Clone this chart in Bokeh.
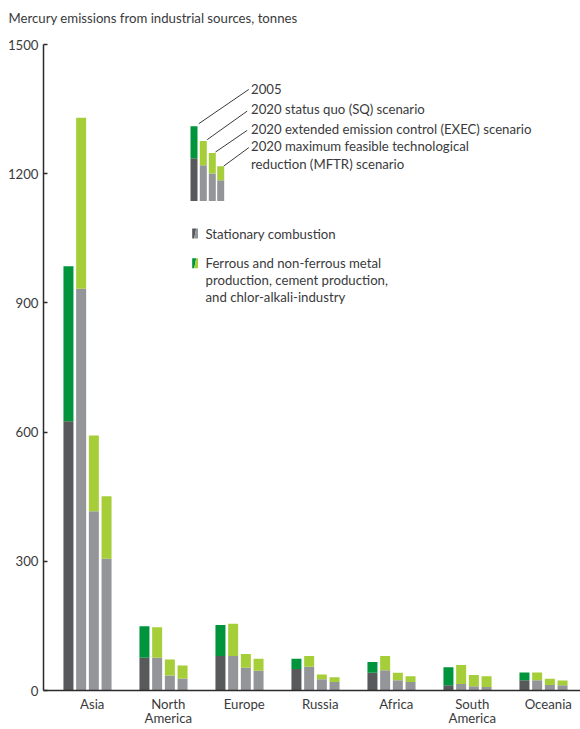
from bokeh.plotting import figure
from bokeh.models import ColumnDataSource, FixedTicker, Range1d
from bokeh.core.properties import value
from bokeh.embed import file_html
from bokeh.resources import INLINE

# ---------------- data (tonnes) ----------------
regions = ["Asia", "North\nAmerica", "Europe", "Russia", "Africa", "South\nAmerica", "Oceania"]
scenarios = ["2005", "2020 SQ", "2020 EXEC", "2020 MFTR"]

stationary_2005 = [625, 76, 80, 50, 41, 12, 24]
industry_2005 = [360, 73, 72, 24, 25, 42, 18]

stationary_sq = [933, 76, 80, 55, 47, 15, 24]
industry_sq = [397, 71, 75, 25, 33, 44, 18]

stationary_exec = [416, 35, 53, 26, 24, 10, 13]
industry_exec = [176, 37, 32, 11, 17, 26, 14]

stationary_mftr = [306, 28, 46, 20, 20, 8, 12]
industry_mftr = [145, 30, 28, 11, 13, 25, 11]

y_ticks = [0, 300, 600, 900, 1200, 1500]

title_text = "Mercury emissions from industrial sources, tonnes"
scenario_labels = ["2005", "2020 status quo (SQ) scenario",
                   "2020 extended emission control (EXEC) scenario",
                   "2020 maximum feasible technological", "reduction (MFTR) scenario"]
legend_labels = ["Stationary combustion", "Ferrous and non-ferrous metal",
                 "production, cement production,", "and chlor-alkali-industry"]

# ---------------- styling / layout ----------------
FONT = "Lato"
FS = "13.2px"
TXT = "#3a3a3c"
AXIS = "#2b2b2b"
DARK_GREY = "#58595b"
LIGHT_GREY = "#939598"
DARK_GREEN = "#00953d"
LIGHT_GREEN = "#a6ce39"

W, H = 580, 729
FRAME_L, FRAME_R, FRAME_T, FRAME_B = 43, 580, 44, 691
GROUP0, GROUP_STEP = 87.0, 76.0      # px of first group centre, group spacing
Y_MAX = 1500
PX_PER_T = (FRAME_B - FRAME_T) / Y_MAX
x_start = (FRAME_L - GROUP0) / GROUP_STEP
x_end = (FRAME_R - GROUP0) / GROUP_STEP

def px_x(px):   # pixel -> data x (decorative legend layout only)
    return (px - GROUP0) / GROUP_STEP

def px_y(py):
    return (FRAME_B - py) / PX_PER_T

BAR_W = 10.0 / GROUP_STEP
PITCH = 12.7 / GROUP_STEP
offsets = [-1.5 * PITCH, -0.5 * PITCH, 0.5 * PITCH, 1.5 * PITCH]

p = figure(width=W, height=H, x_range=Range1d(x_start, x_end), y_range=Range1d(0, Y_MAX),
           output_backend="svg", toolbar_location=None,
           min_border_left=FRAME_L, min_border_right=W - FRAME_R, min_border_top=FRAME_T,
           min_border_bottom=H - FRAME_B)
p.outline_line_color = None
p.grid.visible = False
p.background_fill_color = "white"
p.border_fill_color = "white"

# title (a trailing empty line lifts it to the top of the border area)
p.title.text = title_text + "\n"
p.title.align = "left"
p.title.vertical_align = "top"
p.title.offset = 8 - FRAME_L
p.title.standoff = 1
p.title.text_font = FONT
p.title.text_font_size = FS
p.title.text_font_style = "normal"
p.title.text_color = TXT

stat_sets = [stationary_2005, stationary_sq, stationary_exec, stationary_mftr]
ind_sets = [industry_2005, industry_sq, industry_exec, industry_mftr]
stat_cols = [DARK_GREY, LIGHT_GREY, LIGHT_GREY, LIGHT_GREY]
ind_cols = [DARK_GREEN, LIGHT_GREEN, LIGHT_GREEN, LIGHT_GREEN]

for k in range(4):
    xs = [i + offsets[k] for i in range(len(regions))]
    st = stat_sets[k]
    ind = ind_sets[k]
    src = ColumnDataSource(dict(x=xs, s=st, t=[a + b for a, b in zip(st, ind)],
                                z=[0] * len(st)))
    p.vbar(x="x", width=BAR_W, bottom="z", top="s", source=src,
           fill_color=stat_cols[k], line_color=None)
    p.vbar(x="x", width=BAR_W, bottom="s", top="t", source=src,
           fill_color=ind_cols[k], line_color=None)

# y axis
p.yaxis.ticker = FixedTicker(ticks=y_ticks)
p.yaxis.major_tick_in = 4
p.yaxis.major_tick_out = 0
p.yaxis.minor_tick_line_color = None
p.yaxis.axis_line_width = 1.5
p.yaxis.axis_line_color = AXIS
p.yaxis.major_tick_line_color = AXIS
p.yaxis.major_tick_line_width = 1.5
p.yaxis.major_label_text_font = FONT
p.yaxis.major_label_text_font_size = FS
p.yaxis.major_label_text_color = TXT
p.yaxis.major_label_standoff = 5

# x axis with region names
label_pos = [i + 0.0625 for i in range(len(regions))]
p.xaxis.ticker = FixedTicker(ticks=label_pos)
p.xaxis.major_label_overrides = {pos: name for pos, name in zip(label_pos, regions)}
p.xaxis.major_tick_line_color = None
p.xaxis.minor_tick_line_color = None
p.xaxis.major_tick_in = 0
p.xaxis.major_tick_out = 0
p.xaxis.major_label_standoff = 5
p.xaxis.major_label_text_font = FONT
p.xaxis.major_label_text_font_size = FS
p.xaxis.major_label_text_color = TXT
p.xaxis.major_label_text_line_height = 0.93
p.xaxis.axis_line_width = 1.5
p.xaxis.axis_line_color = AXIS

# ---------------- legend inset ----------------
mini_left = [190, 199.3, 208.3, 216.7]
mini_w = 7.0
mini_top = [126, 140.7, 152.7, 166]
mini_stat = [158, 165, 173.3, 180]
mini_bottom = 200.7
mx = [px_x(l + mini_w / 2) for l in mini_left]
p.vbar(x=mx, width=mini_w / GROUP_STEP, bottom=[px_y(mini_bottom)] * 4,
       top=[px_y(v) for v in mini_stat], fill_color=stat_cols, line_color=None)
p.vbar(x=mx, width=mini_w / GROUP_STEP, bottom=[px_y(v) for v in mini_stat],
       top=[px_y(v) for v in mini_top], fill_color=ind_cols, line_color=None)

leader_from = [(198.3, 123.3), (206.7, 139.3), (215, 151.7), (223.3, 165.7)]
leader_to = [(248.3, 89), (246.7, 110.7), (246.7, 130), (248.3, 147.3)]
p.segment(x0=[px_x(a[0]) for a in leader_from], y0=[px_y(a[1]) for a in leader_from],
          x1=[px_x(b[0]) for b in leader_to], y1=[px_y(b[1]) for b in leader_to],
          line_color="#3a3a3c", line_width=1)

scen_y = [88.3, 108.3, 128.3, 146, 163.3]
p.text(x=[px_x(250.5)] * 5, y=[px_y(v) for v in scen_y], text=scenario_labels,
       text_font=value(FONT), text_font_size=value(FS), text_color=TXT,
       text_align="left", text_baseline="middle")

# legend swatches (diagonally split)
sw_l, sw_r = 191.7, 197.5
def swatch(top, bottom, c_dark, c_light):
    xl, xr = px_x(sw_l), px_x(sw_r)
    xm1 = px_x(sw_l + 2.0)
    xm2 = px_x(sw_l + 4.0)
    yt, yb = px_y(top), px_y(bottom)
    p.patch([xl, xm1, xm2, xl], [yb, yb, yt, yt], fill_color=c_dark, line_color=None)
    p.patch([xm1, xr, xr, xm2], [yb, yb, yt, yt], fill_color=c_light, line_color=None)

swatch(228.3, 238.3, DARK_GREY, LIGHT_GREY)
swatch(258.0, 268.0, DARK_GREEN, LIGHT_GREEN)

leg_y = [233.3, 262.7, 279.6, 296.7]
p.text(x=[px_x(205)] * 4, y=[px_y(v) for v in leg_y], text=legend_labels,
       text_font=value(FONT), text_font_size=value(FS), text_color=TXT,
       text_align="left", text_baseline="middle")

open("out.html", "w").write(file_html(p, INLINE))
